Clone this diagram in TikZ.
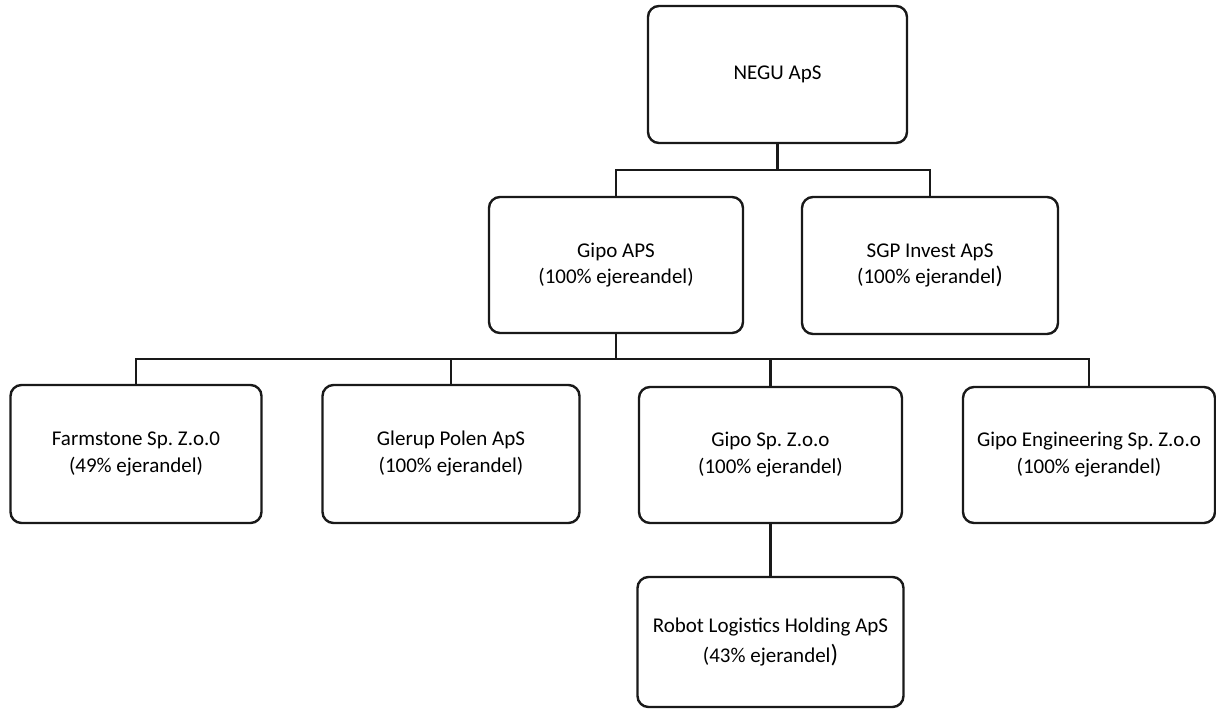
\documentclass[tikz,border=0pt]{standalone}
\usepackage{fontspec}
\setmainfont{Carlito}
\frenchspacing
\begin{document}
\begin{tikzpicture}[x=1pt,y=-1pt,
  orgbox/.style={draw=black!90, line width=2.4pt, rounded corners=11pt, align=center,
    inner sep=0pt, font=\fontsize{21}{26}\selectfont},
  conn/.style={draw=black!90, line width=2.2pt}]
\useasboundingbox (0,0) rectangle (1216,710);
\node[orgbox, minimum width=259pt, minimum height=137pt] (negu) at (777.5,74.5) {NEGU ApS};
\node[orgbox, minimum width=254pt, minimum height=136pt] (gipoaps) at (616,265) {Gipo APS\\(100\% ejereandel)};
\node[orgbox, minimum width=256pt, minimum height=137pt] (sgp) at (930,265.5) {SGP Invest ApS\\(100\% ejerandel{\fontsize{24}{26}\selectfont)}};
\node[orgbox, minimum width=251pt, minimum height=138pt, font=\fontsize{21}{27}\selectfont] (farm) at (136,454) {Farmstone Sp. Z.o.0\\(49\% ejerandel)};
\node[orgbox, minimum width=257pt, minimum height=138pt, font=\fontsize{21}{27}\selectfont] (glerup) at (451,454) {Glerup Polen ApS\\(100\% ejerandel)};
\node[orgbox, minimum width=263pt, minimum height=136pt, font=\fontsize{21}{27}\selectfont] (gipsp) at (770.5,455) {Gipo Sp. Z.o.o\\(100\% ejerandel)};
\node[orgbox, minimum width=252pt, minimum height=136pt, font=\fontsize{21}{27}\selectfont] (eng) at (1089,455) {Gipo Engineering Sp. Z.o.o\\(100\% ejerandel)};
\node[orgbox, minimum width=266pt, minimum height=130pt, font=\fontsize{21}{30}\selectfont] (robot) at (770.5,642) {Robot Logistics Holding ApS\\(43\% ejerandel{\fontsize{25}{30}\selectfont)}};
\coordinate (j1) at (777.5,170);
\coordinate (j2) at (616,359);
\draw[conn] (negu.south) -- (j1);
\draw[conn] (gipoaps.north) |- (j1) -| (sgp.north);
\draw[conn] (gipoaps.south) -- (j2);
\draw[conn] (farm.north) |- (j2) -| (eng.north);
\draw[conn] (glerup.north) |- (j2);
\draw[conn] (gipsp.north) |- (j2);
\draw[conn] (gipsp.south) -- (robot.north);
\end{tikzpicture}
\end{document}
